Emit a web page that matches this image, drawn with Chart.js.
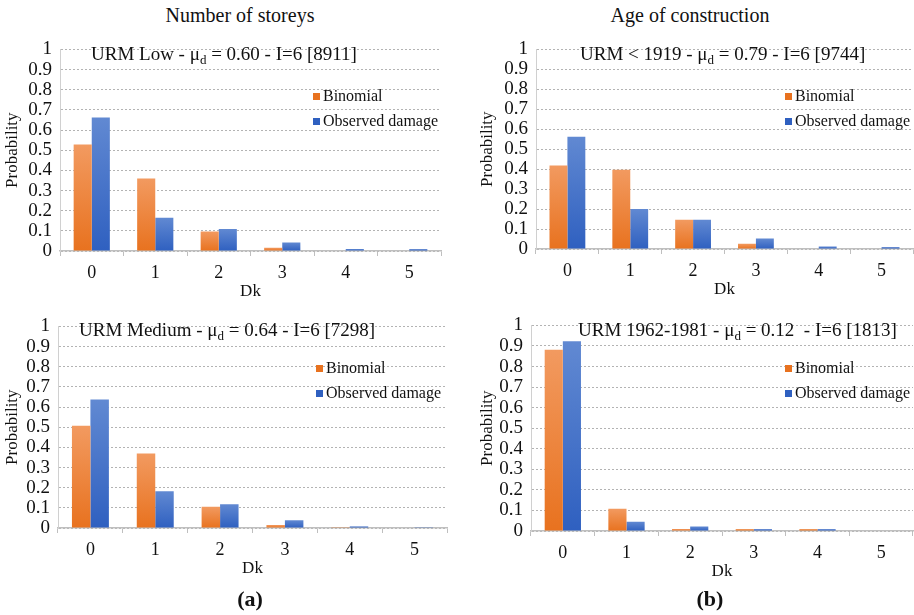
<!DOCTYPE html>
<html>
<head>
<meta charset="utf-8">
<script src="https://cdn.jsdelivr.net/npm/chart.js@4.4.1/dist/chart.umd.min.js"></script>
<style>
body{margin:0;background:#fff;font-family:"Liberation Serif",serif;color:#111}
#page{position:relative;width:914px;height:615px;overflow:hidden}
.box{position:absolute}
.head{position:absolute;font-size:20px;text-align:center;width:300px}
.fig{position:absolute;font-size:22px;font-weight:bold;text-align:center;width:60px}
.note{position:absolute;font-size:19px;white-space:nowrap}
.note sub{font-size:13px;vertical-align:-4px;line-height:0}
.leg{position:absolute;font-size:16px;line-height:25px;white-space:nowrap}
.leg i{display:inline-block;width:7px;height:7px;margin-right:3px;vertical-align:1px}
</style>
</head>
<body>
<div id="page">

<div class="head" style="left:90px;top:4px">Number of storeys</div>
<div class="head" style="left:540px;top:4px">Age of construction</div>

<div class="box" style="left:0;top:30px;width:455px;height:280px"><canvas id="lowChart"></canvas></div>
<div class="box" style="left:475px;top:30px;width:439px;height:278px"><canvas id="oldChart"></canvas></div>
<div class="box" style="left:0;top:307px;width:455px;height:280px"><canvas id="medChart"></canvas></div>
<div class="box" style="left:475px;top:306px;width:439px;height:284px"><canvas id="newChart"></canvas></div>

<div class="note" style="left:91px;top:43px">URM Low - μ<sub>d</sub> = 0.60 - I=6 [8911]</div>
<div class="note" style="left:580px;top:43px">URM &lt; 1919 - μ<sub>d</sub> = 0.79 - I=6 [9744]</div>
<div class="note" style="left:79px;top:319px">URM Medium - μ<sub>d</sub> = 0.64 - I=6 [7298]</div>
<div class="note" style="left:578px;top:319px">URM 1962-1981 - μ<sub>d</sub> = 0.12&nbsp; - I=6 [1813]</div>

<div class="leg" id="leg1" style="left:313px;top:83px"></div>
<div class="leg" id="leg2" style="left:785px;top:83px"></div>
<div class="leg" id="leg3" style="left:316px;top:355px"></div>
<div class="leg" id="leg4" style="left:785px;top:355px"></div>

<div class="fig" style="left:220px;top:586px">(a)</div>
<div class="fig" style="left:680px;top:586px">(b)</div>

</div>
<script>

// damage grade Dk
let dk=["0","1","2","3","4","5"]

let seriesNames=["Binomial","Observed damage"]

// URM Low (number of storeys)
let lowBinomial=[0.528,0.36,0.097,0.016,0.002,0.002]
let lowObserved=[0.662,0.165,0.109,0.042,0.010,0.009]

// URM Medium
let medBinomial=[0.507,0.369,0.105,0.015,0.004,0.003]
let medObserved=[0.637,0.182,0.118,0.038,0.008,0.004]

// URM < 1919
let oldBinomial=[0.418,0.397,0.146,0.026,0.003,0.003]
let oldObserved=[0.563,0.2,0.146,0.052,0.013,0.009]

// URM 1962-1981
let newBinomial=[0.882,0.108,0.01,0.009,0.009,0]
let newObserved=[0.923,0.045,0.022,0.009,0.009,0]

let orange=["#f29a60","#e8721f"]
let blue=["#6189d2","#2f60c0"]

function barFill(cols){

return function(c){

let chart=c.chart
let y=chart.scales.y
if(!y||typeof c.raw!=="number") return cols[1]
let top=y.getPixelForValue(c.raw)
let bottom=y.getPixelForValue(0)
if(!isFinite(top)||!isFinite(bottom)||bottom-top<2) return cols[1]
let g=chart.ctx.createLinearGradient(0,top,0,bottom)
g.addColorStop(0,cols[0])
g.addColorStop(1,cols[1])
return g

}

}

function makeChart(id,binomial,observed,yWidth,padRight,legId){

let html=""
html+=`<div><i style="background:${orange[1]}"></i>${seriesNames[0]}</div>`
html+=`<div><i style="background:${blue[1]}"></i>${seriesNames[1]}</div>`
document.getElementById(legId).innerHTML=html

new Chart(document.getElementById(id),{

type:"bar",

data:{

labels:dk,

datasets:[{

label:seriesNames[0],
data:binomial,
backgroundColor:barFill(orange),
borderWidth:0

},{

label:seriesNames[1],
data:observed,
backgroundColor:barFill(blue),
borderWidth:0

}]

},

options:{

responsive:true,
maintainAspectRatio:false,
animation:false,
layout:{padding:{top:13,right:padRight,bottom:5,left:0}},
datasets:{bar:{categoryPercentage:0.57,barPercentage:1}},

plugins:{legend:{display:false},tooltip:{enabled:false}},

scales:{

x:{

grid:{display:true,offset:true,drawOnChartArea:false,drawTicks:true,tickLength:5,color:"#bfbfbf"},
border:{color:"#bfbfbf",width:1.5},
ticks:{color:"#111",padding:6,font:{family:"Liberation Serif",size:18}},
title:{display:true,text:"Dk",color:"#111",padding:{top:0,bottom:3},font:{family:"Liberation Serif",size:17}},
afterFit:function(s){s.height=54}

},

y:{

min:0,
max:1,
ticks:{stepSize:0.1,autoSkip:false,color:"#111",padding:8,font:{family:"Liberation Serif",size:19},
callback:function(v){return String(Math.round(v*10)/10)}},
grid:{color:"#b3b3b3",lineWidth:1,drawTicks:false},
border:{display:true,color:"#d0d0d0",dash:[2,2]},
title:{display:true,text:"Probability",color:"#111",padding:{top:2,bottom:2},font:{family:"Liberation Serif",size:17}},
afterFit:function(s){s.width=yWidth}

}

}

}

})

}

makeChart("lowChart",lowBinomial,lowObserved,60,14,"leg1")
makeChart("oldChart",oldBinomial,oldObserved,61,1,"leg2")
makeChart("medChart",medBinomial,medObserved,58,8,"leg3")
makeChart("newChart",newBinomial,newObserved,56,1,"leg4")

</script>
</body>
</html>
